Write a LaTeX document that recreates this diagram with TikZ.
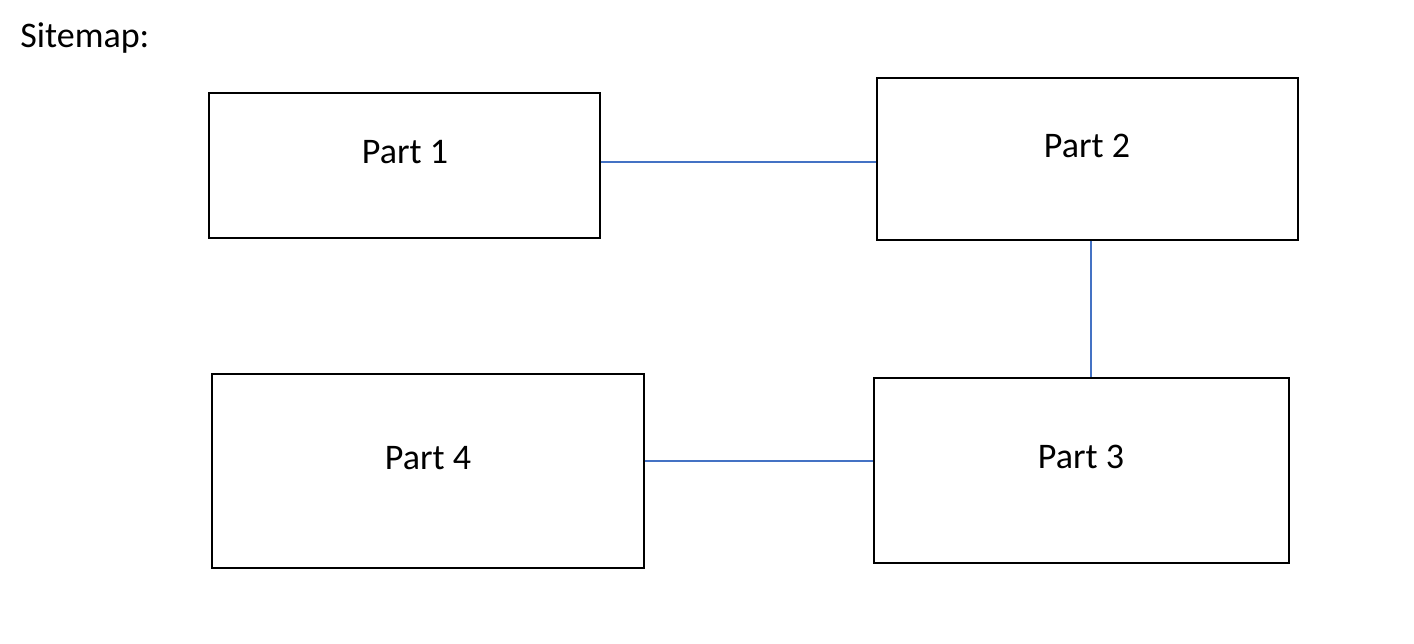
\documentclass[tikz,border=0pt]{standalone}
\usepackage{fontspec}
\setmainfont{Carlito}
\definecolor{linkblue}{HTML}{4472C4}
\begin{document}
\begin{tikzpicture}[x=0.02cm,y=-0.02cm,
  box/.style={draw=black,line width=0.75pt,minimum width=#1,inner sep=0pt},
  lbl/.style={font=\fontsize{20.5}{24}\selectfont,inner sep=0pt},
  link/.style={draw=linkblue,line width=0.9pt}]
\useasboundingbox (0,0) rectangle (1414,643);
\node[anchor=west,lbl] (title) at (20,38) {Sitemap:};
\node[box=7.82cm,minimum height=2.9cm] (p1) at (404.5,165.5) {};
\node[box=8.42cm,minimum height=3.24cm] (p2) at (1087.5,159) {};
\node[box=8.30cm,minimum height=3.70cm] (p3) at (1081.5,470.5) {};
\node[box=8.64cm,minimum height=3.88cm] (p4) at (428,471) {};
\node[lbl] (t1) at (405,152) {Part 1};
\node[lbl] (t2) at (1087,146) {Part 2};
\node[lbl] (t3) at (1081,457) {Part 3};
\node[lbl] (t4) at (428,458) {Part 4};
\draw[link] ([yshift=0.07cm]p1.east) -- ([yshift=0.07cm]p1.east -| p2.west);
\draw[link] ([xshift=0.07cm]p2.south) -- ([xshift=0.07cm]p2.south |- p3.north);
\draw[link] ([yshift=0.2cm]p4.east) -- ([yshift=0.2cm]p4.east -| p3.west);
\end{tikzpicture}
\end{document}
